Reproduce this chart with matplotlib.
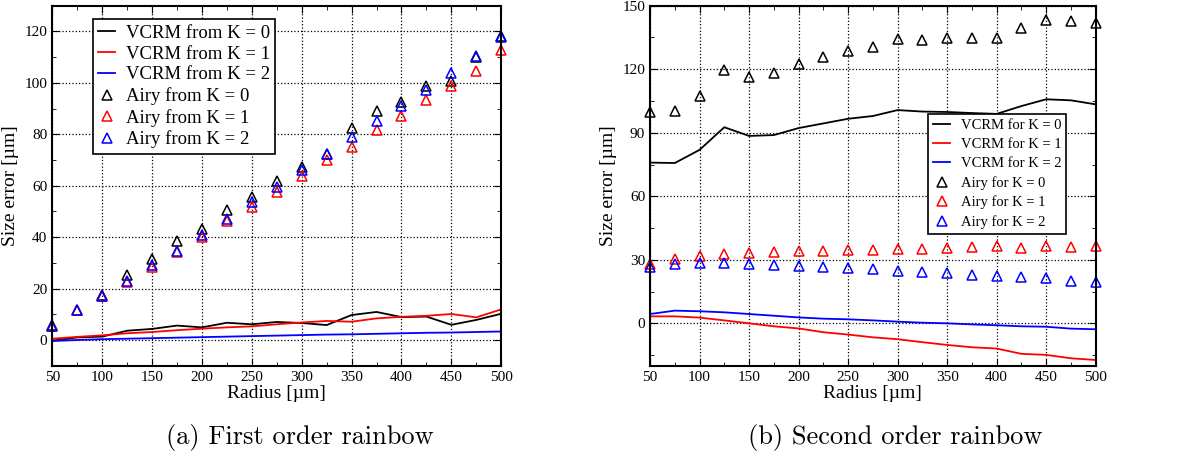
import matplotlib
matplotlib.use("Agg")
import matplotlib.pyplot as plt
from matplotlib.ticker import MultipleLocator

plt.rcParams['font.family'] = ['Liberation Serif', 'DejaVu Serif']

radius = [50, 75, 100, 125, 150, 175, 200, 225, 250, 275,
          300, 325, 350, 375, 400, 425, 450, 475, 500]

# (a) first order rainbow
vcrm1_k0 = [-0.3, 1.0, 1.3, 3.6, 4.3, 5.6, 4.9, 6.7, 6.1, 7.0,
            6.6, 5.8, 9.7, 10.9, 8.9, 9.1, 5.9, 7.8, 10.2]
vcrm1_k1 = [0.5, 1.2, 1.8, 2.6, 3.1, 3.8, 4.4, 4.9, 5.3, 6.1,
            6.8, 7.4, 7.1, 8.4, 9.0, 9.4, 10.1, 8.8, 11.9]
vcrm1_k2 = [-0.4, 0.0, 0.3, 0.5, 0.7, 0.9, 1.1, 1.3, 1.5, 1.7,
            1.9, 2.1, 2.2, 2.4, 2.6, 2.8, 2.9, 3.1, 3.3]
airy1_k0 = [5.8, 11.7, 17.5, 25.3, 31.4, 38.3, 43.0, 50.6, 55.5, 61.9,
            67.2, 72.4, 82.4, 89.1, 92.4, 98.9, 100.8, 109.9, 118.4]
airy1_k1 = [5.5, 11.5, 17.0, 22.7, 28.5, 34.4, 40.2, 46.3, 51.9, 57.7,
            63.6, 69.8, 75.2, 81.5, 87.2, 93.4, 98.6, 104.7, 112.9]
airy1_k2 = [5.5, 11.5, 17.0, 23.0, 29.0, 34.5, 41.0, 47.0, 53.6, 59.4,
            66.2, 72.4, 78.9, 85.0, 91.1, 97.3, 103.8, 110.3, 118.0]

# (b) second order rainbow
vcrm2_k0 = [75.9, 75.7, 81.9, 92.6, 88.5, 88.9, 92.2, 94.4, 96.6, 97.9,
            100.7, 100.0, 99.8, 99.3, 98.9, 102.6, 105.8, 105.3, 103.4]
vcrm2_k1 = [3.3, 3.3, 2.7, 1.4, 0.0, -1.4, -2.4, -4.2, -5.3, -6.6,
            -7.5, -8.9, -10.2, -11.3, -11.9, -14.4, -14.9, -16.5, -17.3]
vcrm2_k2 = [4.4, 6.0, 5.7, 5.2, 4.4, 3.6, 2.8, 2.2, 1.9, 1.4,
            0.8, 0.3, 0.0, -0.5, -0.9, -1.4, -1.6, -2.5, -2.8]
airy2_k0 = [99.6, 100.4, 107.5, 119.6, 116.5, 118.4, 122.6, 125.6, 128.6, 130.6,
            134.1, 134.0, 134.6, 134.6, 134.9, 139.3, 143.1, 142.9, 141.7]
airy2_k1 = [27.8, 30.5, 31.8, 32.6, 33.2, 33.6, 34.3, 34.0, 34.7, 34.7,
            35.3, 35.3, 35.6, 35.9, 36.5, 35.7, 36.3, 36.0, 36.5]
airy2_k2 = [26.8, 27.9, 28.3, 28.6, 28.0, 27.5, 27.1, 26.4, 26.0, 25.5,
            24.7, 24.1, 23.6, 22.8, 22.4, 21.7, 21.3, 20.1, 19.4]

colors = ['black', 'red', 'blue']

fig = plt.figure(figsize=(11.94, 4.54), dpi=100)
ax1 = fig.add_axes([0.0438, 0.1945, 0.3760, 0.7930])
ax2 = fig.add_axes([0.5444, 0.1945, 0.3733, 0.7930])


def draw(ax, vcrm, airy, word):
    for k, (v, c) in enumerate(zip(vcrm, colors)):
        ax.plot(radius, v, color=c, lw=1.3, label=f'VCRM {word} K = {k}')
    for k, (a, c) in enumerate(zip(airy, colors)):
        ax.plot(radius, a, ls='none', marker='^', ms=7.5, mfc='none',
                mec=c, mew=1.1, clip_on=False, zorder=3,
                label=f'Airy {word} K = {k}')
    ax.set_xlim(50, 500)
    ax.xaxis.set_major_locator(MultipleLocator(50))
    ax.xaxis.set_minor_locator(MultipleLocator(25))
    ax.grid(True, which='major', color='black', ls=':', lw=0.9)
    ax.tick_params(which='both', direction='in', top=True, right=True,
                   labelsize=11)
    ax.tick_params(which='major', length=5)
    ax.tick_params(which='minor', length=3)
    for s in ax.spines.values():
        s.set_linewidth(1.5)
        s.set_zorder(4)
    ax.set_xlabel('Radius [µm]', fontsize=14, labelpad=1)
    ax.set_ylabel('Size error [µm]', fontsize=14, labelpad=4)


draw(ax1, [vcrm1_k0, vcrm1_k1, vcrm1_k2], [airy1_k0, airy1_k1, airy1_k2], 'from')
ax1.set_ylim(-10, 130)
ax1.yaxis.set_major_locator(MultipleLocator(20))
ax1.yaxis.set_minor_locator(MultipleLocator(10))
leg1 = ax1.legend(loc='upper left', bbox_to_anchor=(0.09, 0.963), fontsize=13.5,
                  fancybox=False, framealpha=1, edgecolor='black',
                  handlelength=0.9, handletextpad=0.55, borderpad=0.3,
                  labelspacing=0.2, borderaxespad=0)
leg1.get_frame().set_linewidth(1.2)
leg1.set_zorder(5)

draw(ax2, [vcrm2_k0, vcrm2_k1, vcrm2_k2], [airy2_k0, airy2_k1, airy2_k2], 'for')
ax2.set_ylim(-20, 150)
ax2.yaxis.set_major_locator(MultipleLocator(30))
ax2.yaxis.set_minor_locator(MultipleLocator(15))
leg2 = ax2.legend(loc='upper left', bbox_to_anchor=(0.623, 0.70), fontsize=10.5,
                  fancybox=False, framealpha=1, edgecolor='black',
                  handlelength=1.2, handletextpad=0.7, borderpad=0.35,
                  labelspacing=0.4, borderaxespad=0)
leg2.get_frame().set_linewidth(1.2)
leg2.set_zorder(5)

fig.text(0.251, 0.037, '(a) First order rainbow', ha='center', va='center',
         fontsize=19, family='cmr10')
fig.text(0.75, 0.037, '(b) Second order rainbow', ha='center', va='center',
         fontsize=19, family='cmr10')

fig.savefig('out.png', dpi=100)
